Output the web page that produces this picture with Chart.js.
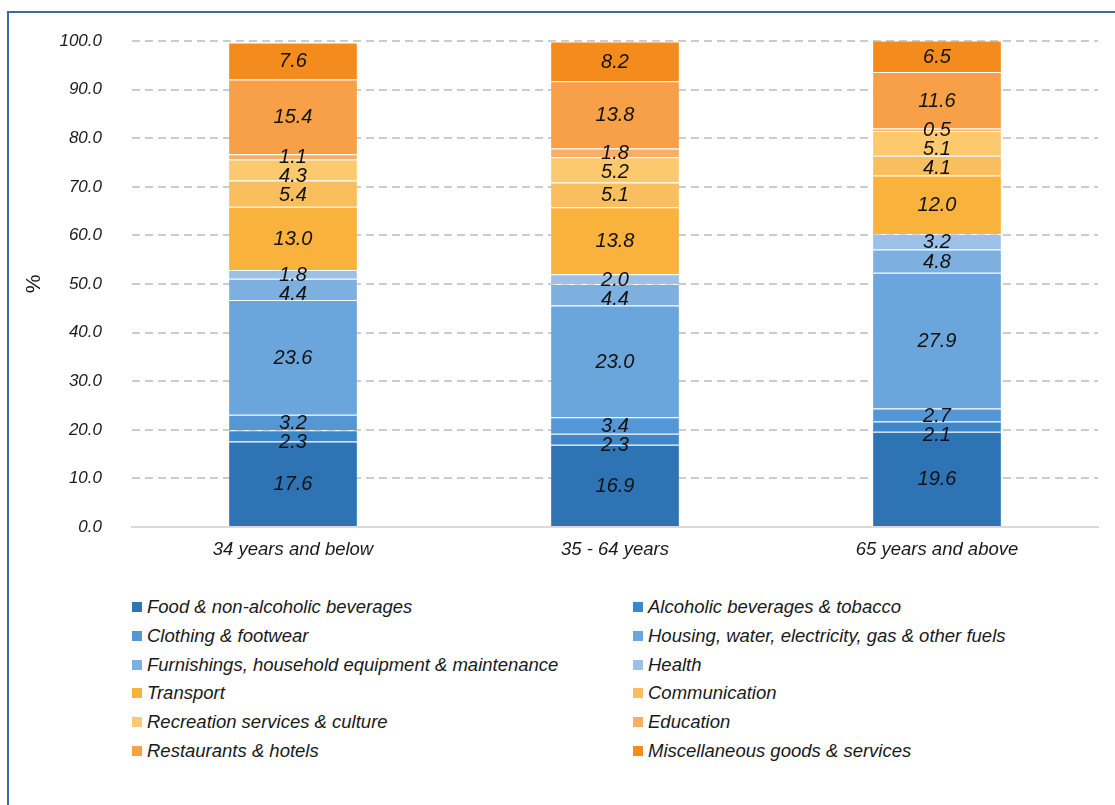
<!DOCTYPE html>
<html>
<head>
<meta charset="utf-8">
<script src="https://cdn.jsdelivr.net/npm/chart.js@4.4.1/dist/chart.umd.min.js"></script>
<style>
  body { margin: 0; background: #fff; font-family: "Liberation Sans", Arial, sans-serif; }
  #wrap { position: relative; width: 1115px; height: 805px; overflow: hidden; }
  #frame { position: absolute; left: 7px; top: 11px; width: 1300px; height: 1000px;
           border-left: 2px solid #42689f; border-top: 2px solid #42689f; }
  #chartCanvas { position: absolute; left: 0; top: 0; }
  #legend { position: absolute; left: 132px; top: 593px; width: 980px;
            display: grid; grid-template-columns: 501px 470px; grid-auto-rows: 28.7px; }
  .item { display: flex; align-items: center; font-style: italic; font-size: 18.5px; color: #1a1a1a; white-space: nowrap; }
  .box { width: 10px; height: 10px; margin-right: 5px; flex: none; }
</style>
</head>
<body>
<div id="wrap">
  <div id="frame"></div>
  <canvas id="chartCanvas" width="1115" height="580"></canvas>
  <div id="legend"></div>
</div>
<script>
var categories = ["34 years and below", "35 - 64 years", "65 years and above"];

var groups = [
    "Food & non-alcoholic beverages",
    "Alcoholic beverages & tobacco",
    "Clothing & footwear",
    "Housing, water, electricity, gas & other fuels",
    "Furnishings, household equipment & maintenance",
    "Health",
    "Transport",
    "Communication",
    "Recreation services & culture",
    "Education",
    "Restaurants & hotels",
    "Miscellaneous goods & services"
];

// one array per age group, same order as groups (bottom to top)
var youngShares  = [17.6, 2.3, 3.2, 23.6, 4.4, 1.8, 13.0, 5.4, 4.3, 1.1, 15.4, 7.6];
var middleShares = [16.9, 2.3, 3.4, 23.0, 4.4, 2.0, 13.8, 5.1, 5.2, 1.8, 13.8, 8.2];
var olderShares  = [19.6, 2.1, 2.7, 27.9, 4.8, 3.2, 12.0, 4.1, 5.1, 0.5, 11.6, 6.5];

var colors = [
    "#2e74b5", "#3d87cb", "#5597d4", "#6aa5db", "#7eb0df", "#9bc2e6",
    "#f9b23b", "#f9be5e", "#fcc96f", "#f9ae68", "#f7a047", "#f48b1d"
];

var yTicks = [0, 10, 20, 30, 40, 50, 60, 70, 80, 90, 100];

Chart.defaults.font.family = '"Liberation Sans", Arial, sans-serif';
Chart.defaults.color = "#1a1a1a";

var datasets = groups.map(function (name, i) {
    return {
        label: name,
        data: [youngShares[i], middleShares[i], olderShares[i]],
        backgroundColor: colors[i],
        borderColor: "rgba(255,255,255,0.22)",
        borderWidth: { top: 1, bottom: 0, left: 0, right: 0 },
        categoryPercentage: 1,
        barPercentage: 0.397
    };
});

// value labels in the middle of each segment, nudged down so they don't overlap
var segmentLabels = {
    id: "segmentLabels",
    afterDatasetsDraw: function (chart) {
        var ctx = chart.ctx;
        ctx.save();
        ctx.font = "italic 20px 'Liberation Sans', Arial, sans-serif";
        ctx.fillStyle = "#111";
        ctx.textAlign = "center";
        ctx.textBaseline = "middle";
        var n = chart.data.datasets.length;
        chart.data.labels.forEach(function (c, j) {
            var last = -Infinity;
            for (var i = n - 1; i >= 0; i--) {
                var el = chart.getDatasetMeta(i).data[j];
                var v = chart.data.datasets[i].data[j];
                var y = (el.y + el.base) / 2 + 1;
                if (y < last + 19) y = last + 19;
                last = y;
                ctx.fillText(v.toFixed(1), el.x, y);
            }
        });
        ctx.restore();
    }
};

var ctx = document.getElementById("chartCanvas").getContext("2d");
var myChart = new Chart(ctx, {
    type: "bar",
    data: { labels: categories, datasets: datasets },
    options: {
        responsive: false,
        animation: false,
        devicePixelRatio: 1,
        layout: { padding: { top: 41, right: 17, bottom: 0, left: 0 } },
        plugins: { legend: { display: false }, tooltip: { enabled: false } },
        scales: {
            x: {
                stacked: true,
                grid: { display: false, drawTicks: false },
                border: { display: true, color: "#d9d9d9", width: 2 },
                ticks: { padding: 12, font: { size: 18.5, style: "italic" }, color: "#1a1a1a" },
                afterFit: function (scale) { scale.height = 53; }
            },
            y: {
                stacked: true,
                min: 0,
                max: 100,
                afterBuildTicks: function (scale) {
                    scale.ticks = yTicks.map(function (v) { return { value: v }; });
                },
                grid: {
                    drawTicks: false,
                    lineWidth: 2,
                    color: function (c) { return c.tick && c.tick.value === 0 ? "rgba(0,0,0,0)" : "#cccccc"; }
                },
                border: { display: false, dash: [8, 5] },
                ticks: {
                    padding: 30,
                    font: { size: 17, style: "italic" },
                    color: "#1a1a1a",
                    callback: function (v) { return Number(v).toFixed(1); }
                },
                title: {
                    display: true,
                    text: "%",
                    font: { size: 21 },
                    color: "#1a1a1a",
                    padding: { top: 22, bottom: 0 }
                },
                afterFit: function (scale) { scale.width = 132; }
            }
        }
    },
    plugins: [segmentLabels]
});

// two-column legend, built from the chart's datasets
var legendEl = document.getElementById("legend");
myChart.data.datasets.forEach(function (ds) {
    var item = document.createElement("div");
    item.className = "item";
    var box = document.createElement("span");
    box.className = "box";
    box.style.background = ds.backgroundColor;
    var txt = document.createElement("span");
    txt.textContent = ds.label;
    item.appendChild(box);
    item.appendChild(txt);
    legendEl.appendChild(item);
});
</script>
</body>
</html>
